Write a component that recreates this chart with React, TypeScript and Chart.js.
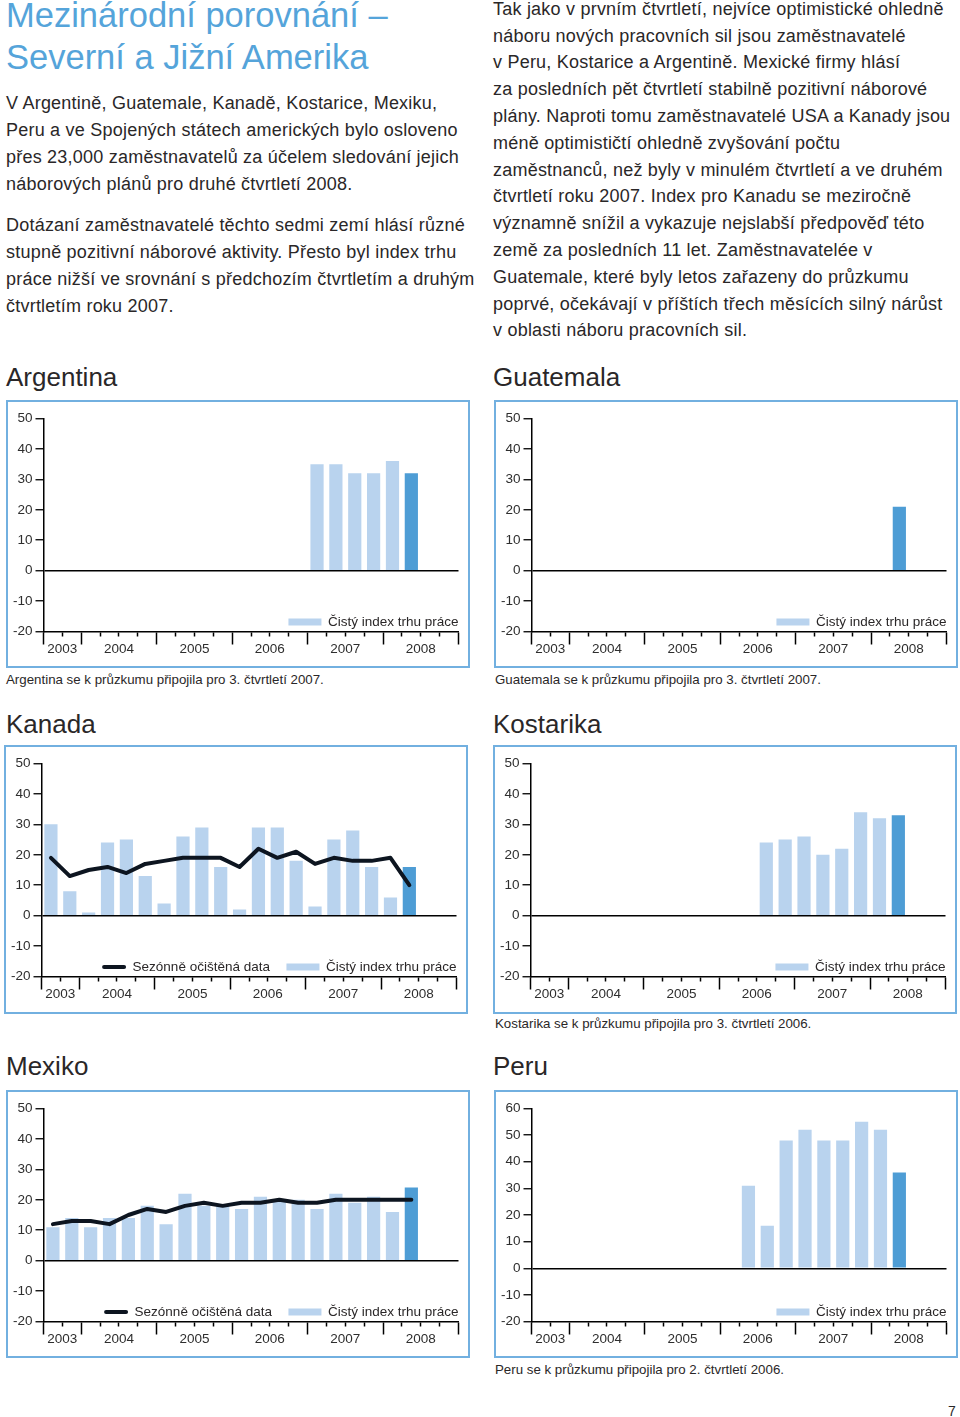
import React, { useEffect, useRef } from 'react';
import { Chart, registerables } from 'chart.js';

Chart.register(...registerables);

const FONT = '"Liberation Sans", Arial, sans-serif';

// ---- axis categories & labels ----
const QUARTERS = [
  '2003 Q3', '2003 Q4',
  '2004 Q1', '2004 Q2', '2004 Q3', '2004 Q4',
  '2005 Q1', '2005 Q2', '2005 Q3', '2005 Q4',
  '2006 Q1', '2006 Q2', '2006 Q3', '2006 Q4',
  '2007 Q1', '2007 Q2', '2007 Q3', '2007 Q4',
  '2008 Q1', '2008 Q2', '2008 Q3', '2008 Q4',
];
const YEAR_LABELS = ['2003', '2004', '2005', '2006', '2007', '2008'];
const YEAR_BOUNDARIES = [0, 2, 6, 10, 14, 18, 22];
const FORECAST_INDEX = 19; // 2008 Q2

// ---- series values ----
const ARGENTINA_NET = [null, null, null, null, null, null, null, null, null, null, null, null, null, null, 35, 35, 32, 32, 36, 32];
const GUATEMALA_NET = [null, null, null, null, null, null, null, null, null, null, null, null, null, null, null, null, null, null, null, 21];
const KANADA_NET = [30, 8, 1, 24, 25, 13, 4, 26, 29, 16, 2, 29, 29, 18, 3, 25, 28, 16, 6, 16];
const KANADA_SA = [19, 13, 15, 16, 14, 17, 18, 19, 19, 19, 16, 22, 19, 21, 17, 19, 18, 18, 19, 10];
const KOSTARIKA_NET = [null, null, null, null, null, null, null, null, null, null, null, null, 24, 25, 26, 20, 22, 34, 32, 33];
const MEXIKO_NET = [11, 14, 11, 14, 14, 18, 12, 22, 18, 18, 17, 21, 20, 20, 17, 22, 19, 21, 16, 24];
const MEXIKO_SA = [12, 13, 13, 12, 15, 17, 16, 18, 19, 18, 19, 19, 20, 19, 19, 20, 20, 20, 20, 20];
const PERU_NET = [null, null, null, null, null, null, null, null, null, null, null, 31, 16, 48, 52, 48, 48, 55, 52, 36];

const LABEL_NET = 'Čistý index trhu práce';
const LABEL_SA = 'Sezónně očištěná data';

// ---- colours ----
const BAR_LIGHT = '#b9d3ee';
const BAR_DARK = '#4e9dd5';
const LINE_COLOR = '#0d1520';
const FRAME = '#72b0e0';
const TITLE_BLUE = '#55a4da';
const TEXT = '#2a2728';
const TICK_TEXT = '#2e2e2e';

const yearLabelAt = (v: number) => {
  for (let i = 0; i < YEAR_LABELS.length; i++) {
    if ((YEAR_BOUNDARIES[i] + YEAR_BOUNDARIES[i + 1]) / 2 === v) return YEAR_LABELS[i];
  }
  return '';
};

const insideLegend = {
  id: 'insideLegend',
  afterDraw(chart: any) {
    const { ctx, chartArea } = chart;
    const ds = chart.data.datasets;
    ctx.save();
    ctx.font = `13.5px ${FONT}`;
    ctx.textBaseline = 'middle';
    ctx.textAlign = 'left';
    const y = chartArea.bottom - 9.5;
    let x = chartArea.right;
    for (let i = ds.length - 1; i >= 0; i--) {
      const d = ds[i];
      const tw = ctx.measureText(d.label).width;
      x -= tw;
      ctx.fillStyle = TEXT;
      ctx.fillText(d.label, x, y + 0.5);
      x -= 6.5;
      if (d.type === 'line') {
        ctx.strokeStyle = d.borderColor;
        ctx.lineWidth = 4;
        ctx.lineCap = 'round';
        ctx.beginPath();
        ctx.moveTo(x - 22, y);
        ctx.lineTo(x - 2, y);
        ctx.stroke();
        x -= 24;
      } else {
        ctx.fillStyle = BAR_LIGHT;
        ctx.fillRect(x - 33, y - 3.5, 33, 7);
        x -= 33;
      }
      x -= 16.5;
    }
    ctx.restore();
  },
};

type PanelProps = {
  left: number; top: number; width: number; height: number;
  net: (number | null)[]; sa?: number[]; yMax: number;
};

function Panel({ left, top, width, height, net, sa, yMax }: PanelProps) {
  const ref = useRef<HTMLCanvasElement>(null);
  const W = width - 4;
  const H = height - 4;
  useEffect(() => {
    const datasets: any[] = [];
    if (sa) {
      datasets.push({
        type: 'line', label: LABEL_SA, data: sa, borderColor: LINE_COLOR, borderWidth: 4,
        pointRadius: 0, tension: 0, borderJoinStyle: 'round', borderCapStyle: 'round', order: 0,
        xAxisID: 'x', yAxisID: 'y',
      });
    }
    datasets.push({
      type: 'bar', label: LABEL_NET, data: net,
      backgroundColor: (c: any) => (c.dataIndex === FORECAST_INDEX ? BAR_DARK : BAR_LIGHT),
      barPercentage: 0.7, categoryPercentage: 1, order: 1, xAxisID: 'x', yAxisID: 'y',
    });
    const chart = new Chart(ref.current as HTMLCanvasElement, {
      type: 'bar',
      data: { labels: QUARTERS, datasets },
      options: {
        responsive: false,
        animation: false,
        layout: { padding: { left: 0, top: 16.5, right: W - 450.5, bottom: 0 } },
        plugins: { legend: { display: false }, tooltip: { enabled: false } },
        scales: {
          x: { type: 'category', display: false, offset: true, grid: { offset: true } },
          xq: {
            type: 'linear', axis: 'x', position: 'bottom', min: 0, max: QUARTERS.length,
            offset: false,
            afterBuildTicks: (s: any) => {
              s.ticks = QUARTERS.map((_, i) => ({ value: i })).concat([{ value: QUARTERS.length }]);
            },
            afterFit: (s: any) => { s.height = H - 229.5; },
            ticks: {
              autoSkip: false, maxRotation: 0, minRotation: 0, padding: -3.5, color: TICK_TEXT,
              font: { family: FONT, size: 13.5 },
              callback: (v: any) => yearLabelAt(Number(v)),
            },
            grid: {
              offset: false,
              drawOnChartArea: false, drawTicks: true, tickLength: 13, color: '#000', tickColor: '#000', tickWidth: 1.5,
              tickBorderDash: (c: any) => (YEAR_BOUNDARIES.includes(c.tick?.value) ? [] : [4, 40]),
            },
            border: { display: true, color: '#000', width: 1.5 },
          },
          y: {
            type: 'linear', position: 'left', min: -20, max: yMax, z: 1,
            afterFit: (s: any) => { s.width = 35.5; },
            ticks: { stepSize: 10, color: TICK_TEXT, padding: 3, font: { family: FONT, size: 13.5 } },
            grid: {
              color: (c: any) => (c.tick?.value === 0 ? '#000' : 'rgba(0,0,0,0)'),
              lineWidth: 1.5, tickColor: '#000', tickLength: 8, tickWidth: 1.3, drawTicks: true,
            },
            border: { display: true, color: '#000', width: 1.5 },
          },
        },
      } as any,
      plugins: [insideLegend],
    });
    return () => chart.destroy();
  }, []);
  return (
    <div style={{ position: 'absolute', left, top, width, height, boxSizing: 'border-box', border: `2px solid ${FRAME}` }}>
      <canvas ref={ref} width={W} height={H} style={{ display: 'block', width: W, height: H }} />
    </div>
  );
}

const TITLE_LINES = ['Mezinárodní porovnání –', 'Severní a Jižní Amerika'];
const LEFT_P1 = [
  'V Argentině, Guatemale, Kanadě, Kostarice, Mexiku,',
  'Peru a ve Spojených státech amerických bylo osloveno',
  'přes 23,000 zaměstnavatelů za účelem sledování jejich',
  'náborových plánů pro druhé čtvrtletí 2008.',
];
const LEFT_P2 = [
  'Dotázaní zaměstnavatelé těchto sedmi zemí hlásí různé',
  'stupně pozitivní náborové aktivity. Přesto byl index trhu',
  'práce nižší ve srovnání s předchozím čtvrtletím a druhým',
  'čtvrtletím roku 2007.',
];
const RIGHT_P = [
  'Tak jako v prvním čtvrtletí, nejvíce optimistické ohledně',
  'náboru nových pracovních sil jsou zaměstnavatelé',
  'v Peru, Kostarice a Argentině. Mexické firmy hlásí',
  'za posledních pět čtvrtletí stabilně pozitivní náborové',
  'plány. Naproti tomu zaměstnavatelé USA a Kanady jsou',
  'méně optimističtí ohledně zvyšování počtu',
  'zaměstnanců, než byly v minulém čtvrtletí a ve druhém',
  'čtvrtletí roku 2007. Index pro Kanadu se meziročně',
  'významně snížil a vykazuje nejslabší předpověď této',
  'země za posledních 11 let. Zaměstnavatelée v',
  'Guatemale, které byly letos zařazeny do průzkumu',
  'poprvé, očekávají v příštích třech měsících silný nárůst',
  'v oblasti náboru pracovních sil.',
];

function Lines({ lines, left, top, size, lh, color, ls = 0 }: any) {
  return (
    <div style={{ position: 'absolute', left, top, fontSize: size, lineHeight: `${lh}px`, color, whiteSpace: 'nowrap', letterSpacing: ls }}>
      {lines.map((l: string, i: number) => <div key={i}>{l}</div>)}
    </div>
  );
}

function Label({ text, left, top, size, color = TEXT }: any) {
  return (
    <div style={{ position: 'absolute', left, top, fontSize: size, lineHeight: `${Math.round(size * 1.2)}px`, color, whiteSpace: 'nowrap' }}>
      {text}
    </div>
  );
}

export default function App() {
  const body = { size: 18, lh: 26.8, color: TEXT, ls: 0.22 };
  return (
    <div style={{ position: 'absolute', left: 0, top: 0, width: 960, height: 1417, overflow: 'hidden', background: '#fff', fontFamily: FONT }}>
      <Lines lines={TITLE_LINES} left={6} top={-6} size={34.5} lh={42} color={TITLE_BLUE} />
      <Lines lines={LEFT_P1} left={6} top={90.3} {...body} />
      <Lines lines={LEFT_P2} left={6} top={212.3} {...body} />
      <Lines lines={RIGHT_P} left={493} top={-4.2} {...body} />

      <Label text="Argentina" left={6} top={377.5 - 15.5} size={26} />
      <Label text="Guatemala" left={493} top={377.5 - 15.5} size={26} />
      <Label text="Kanada" left={6} top={724 - 15.5} size={26} />
      <Label text="Kostarika" left={493} top={724 - 15.5} size={26} />
      <Label text="Mexiko" left={6} top={1066 - 15.5} size={26} />
      <Label text="Peru" left={493} top={1066 - 15.5} size={26} />

      <Panel left={6} top={400} width={464} height={268} net={ARGENTINA_NET} yMax={50} />
      <Panel left={494} top={400} width={464} height={268} net={GUATEMALA_NET} yMax={50} />
      <Panel left={4} top={745} width={464} height={269} net={KANADA_NET} sa={KANADA_SA} yMax={50} />
      <Panel left={493} top={745} width={464} height={269} net={KOSTARIKA_NET} yMax={50} />
      <Panel left={6} top={1090} width={464} height={268} net={MEXIKO_NET} sa={MEXIKO_SA} yMax={50} />
      <Panel left={494} top={1090} width={464} height={268} net={PERU_NET} yMax={60} />

      <Label text="Argentina se k průzkumu připojila pro 3. čtvrtletí 2007." left={6} top={680 - 8} size={13.3} />
      <Label text="Guatemala se k průzkumu připojila pro 3. čtvrtletí 2007." left={495} top={680 - 8} size={13.3} />
      <Label text="Kostarika se k průzkumu připojila pro 3. čtvrtletí 2006." left={495} top={1024 - 8} size={13.3} />
      <Label text="Peru se k průzkumu připojila pro 2. čtvrtletí 2006." left={495} top={1370 - 8} size={13.3} />

      <Label text="7" left={948} top={1411 - 8.5} size={14} />
    </div>
  );
}
